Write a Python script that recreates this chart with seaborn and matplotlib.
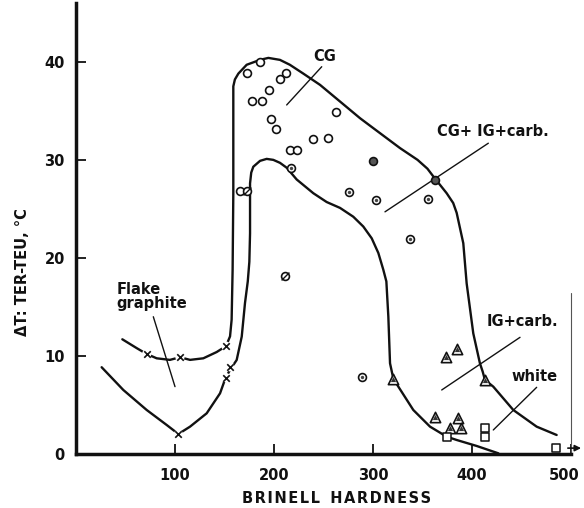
import numpy as np
import pandas as pd
import seaborn as sns
import matplotlib.pyplot as plt
import matplotlib.transforms as mtransforms
from matplotlib.path import Path

# ---- boundary curves (Brinell hardness, undercooling dT) ----
outer_x = [46.8, 61.3, 71.4, 81.5, 94.9, 105.0, 115.2, 128.6, 142.1, 151.5, 155.6, 157.2,
           158.2, 158.9, 158.9, 160.5, 164.0, 172.4, 185.9, 194.3, 206.0, 216.0, 229.6,
           246.5, 256.6, 286.9, 296.8, 327.3, 345.0, 355.0, 361.0, 374.4, 381.0, 384.5,
           391.2, 394.6, 401.3, 408.0, 410.8, 413.1, 421.5, 441.7, 465.3, 485.5]
outer_y = [11.7, 10.8, 10.2, 9.76, 9.6, 9.87, 9.6, 9.76, 10.4, 11.0, 12.0, 13.7,
           18.8, 26.6, 37.5, 38.2, 38.8, 39.7, 40.2, 40.4, 40.2, 39.7, 38.8,
           37.65, 36.8, 34.25, 33.5, 31.2, 30.0, 29.1, 28.3, 26.6, 25.6, 24.6,
           21.5, 17.4, 12.3, 9.25, 8.4, 7.55, 6.87, 4.49, 2.79, 1.94]

inner_x = [25.9, 47.8, 71.4, 91.6, 103.4, 115.2, 132.0, 145.5, 151.2, 155.6, 162.3, 167.4,
           170.7, 173.5, 175.1, 175.8, 175.8, 177.0, 179.1, 185.9, 192.6, 199.3, 206.0,
           212.8, 222.9, 239.7, 253.2, 266.7, 280.1, 290.2, 298.7, 305.4, 310.4, 313.5,
           315.5, 317.2, 320.5, 325.6, 340.7, 357.6, 374.4, 384.5, 404.7, 426.6]
inner_y = [8.85, 6.53, 4.49, 2.96, 2.04, 2.79, 4.15, 6.19, 7.8, 8.57, 9.59, 11.97,
           15.4, 17.6, 19.6, 22.5, 27.6, 28.7, 29.3, 29.9, 30.1, 30.0, 29.7,
           29.2, 28.0, 26.6, 25.7, 25.1, 24.2, 23.2, 22.0, 20.5, 18.8, 17.6,
           14.0, 9.25, 7.7, 6.87, 4.49, 2.79, 1.77, 1.43, 0.82, 0.07]

# ---- measured irons ----
flake_x = [71.4, 105.0, 151.5, 155.5, 151.2, 103.4]
flake_y = [10.2, 9.9, 11.0, 8.9, 7.8, 2.0]

cg_x = [185.9, 172.4, 206.0, 211.8, 195.3, 178.1, 187.5, 197.0, 202.0, 262.3,
        239.0, 254.2, 216.0, 223.0, 165.7]
cg_y = [40.0, 38.9, 38.2, 38.9, 37.1, 36.0, 36.0, 34.2, 33.1, 34.9,
        32.1, 32.2, 31.0, 31.0, 26.8]

cg_slash_x = [172.4, 211.0]
cg_slash_y = [26.8, 18.2]

mixed_x = [217.0, 276.0, 303.5, 337.4, 355.9, 288.5]
mixed_y = [29.2, 26.7, 25.9, 21.9, 26.0, 7.9]

mixed_dark_x = [300.3, 362.8]
mixed_dark_y = [29.9, 27.9]

igc_x = [320.5, 385.2, 373.7, 413.1, 362.6, 386.2, 378.0, 388.6]
igc_y = [7.7, 10.7, 9.9, 7.55, 3.74, 3.64, 2.7, 2.7]

white_x = [374.4, 413.1, 413.1, 484.8]
white_y = [1.77, 2.7, 1.77, 0.65]

x_ticks = [100, 200, 300, 400, 500]
y_ticks = [0, 10, 20, 30, 40]

# ---- figure ----
sns.set_theme(style="ticks")
plt.rcParams["font.family"] = ["DejaVu Sans"]
plt.rcParams["font.weight"] = "bold"

fig = plt.figure(figsize=(5.84, 5.08), dpi=100)
ax = fig.add_axes([76 / 584, 54 / 508, 495 / 584, 451 / 508])
ax.set_xlim(0, 500)
ax.set_ylim(0, 46)

ink = "#111111"

for cx, cy in [(outer_x, outer_y), (inner_x, inner_y)]:
    sns.lineplot(x=cx, y=cy, sort=False, estimator=None, color=ink, lw=1.7, ax=ax, zorder=2)

# leader lines from the phase labels
leaders = [
    ((248.2, 212.8), (39.5, 35.6)),
    ((416.5, 312.1), (31.7, 24.7)),
    ((448.5, 369.4), (11.9, 6.53)),
    ((465.3, 421.5), (6.8, 2.45)),
    ((78.1, 100.0), (14.0, 6.87)),
]
for lx, ly in leaders:
    ax.plot(lx, ly, color=ink, lw=1.0, zorder=2)

# flake graphite: crosses with a small white gap in the curve
sns.scatterplot(x=flake_x, y=flake_y, marker="o", s=45, color="white", edgecolor="none",
                ax=ax, zorder=3)
sns.scatterplot(x=flake_x, y=flake_y, marker="x", s=22, color=ink, linewidth=1.2,
                ax=ax, zorder=4)

# compacted graphite: open circles
sns.scatterplot(x=cg_x, y=cg_y, marker="o", s=32, facecolor="white", edgecolor=ink,
                linewidth=1.2, ax=ax, zorder=4)
slash = Path([(-0.9, -0.9), (0.9, 0.9)], [Path.MOVETO, Path.LINETO])
sns.scatterplot(x=cg_slash_x, y=cg_slash_y, marker="o", s=32, facecolor="white",
                edgecolor=ink, linewidth=1.2, ax=ax, zorder=4)
ax.scatter(cg_slash_x, cg_slash_y, marker=slash, s=32, color=ink, linewidth=1.0, zorder=5)

# CG + IG + carbides: dotted circles
sns.scatterplot(x=mixed_x, y=mixed_y, marker="o", s=32, facecolor="white", edgecolor=ink,
                linewidth=1.2, ax=ax, zorder=4)
ax.scatter(mixed_x, mixed_y, marker="o", s=6, color="#444444", linewidth=0, zorder=5)
sns.scatterplot(x=mixed_dark_x, y=mixed_dark_y, marker="o", s=32, facecolor="#555555",
                edgecolor=ink, linewidth=1.2, ax=ax, zorder=4)

# IG + carbides: triangles
sns.scatterplot(x=igc_x, y=igc_y, marker="^", s=55, facecolor="white", edgecolor=ink,
                linewidth=1.2, ax=ax, zorder=4)
ax.scatter(igc_x, igc_y, marker="^", s=14, color="#333333", linewidth=0, zorder=5)

# white iron: open squares
sns.scatterplot(x=white_x, y=white_y, marker="s", s=28, facecolor="white", edgecolor=ink,
                linewidth=1.1, ax=ax, zorder=4)
ax.annotate("", xy=(513, 0.6), xytext=(494, 0.6), annotation_clip=False,
            arrowprops=dict(arrowstyle="-|>", color=ink, lw=1.2, mutation_scale=9))
ax.plot([500, 500], [0, 16.4], color="#555555", lw=0.8, clip_on=False, zorder=1)

# phase labels
lab = dict(fontsize=10.5, fontweight="bold", color=ink)
ax.text(251.5, 40.5, "CG", ha="center", va="center", **lab)
ax.text(364.3, 32.9, "CG+ IG+carb.", ha="left", va="center", **lab)
ax.text(414.8, 13.5, "IG+carb.", ha="left", va="center", **lab)
ax.text(440.1, 7.9, "white", ha="left", va="center", **lab)
ax.text(41.1, 16.05, "Flake\ngraphite", ha="left", va="center", linespacing=0.95, **lab)

# axes styling
for side in ["top", "right"]:
    ax.spines[side].set_visible(False)
for side in ["left", "bottom"]:
    ax.spines[side].set_linewidth(2.5)
    ax.spines[side].set_color(ink)
ax.set_xticks(x_ticks)
ax.set_yticks(y_ticks)
ax.tick_params(direction="in", length=7, width=1.3, colors=ink, labelsize=10.5)
ax.tick_params(axis="x", pad=10)
ax.tick_params(axis="y", pad=8)
for t in ax.get_xticklabels() + ax.get_yticklabels():
    t.set_fontweight("bold")

# keep the last hardness label inside the figure
last = ax.get_xticklabels()[-1]
last.set_transform(last.get_transform() +
                   mtransforms.ScaledTranslation(-7 / 100, 0, fig.dpi_scale_trans))

ax.set_xlabel("B R I N E L L   H A R D N E S S".replace(" ", "\u200a").replace("\u200a\u200a\u200a", "  "),
              fontsize=10.5, fontweight="bold", color=ink, va="center")
ax.xaxis.set_label_coords(0.527, -0.0976)
ax.set_ylabel("ΔT: TER-TEU, °C", fontsize=10.5, fontweight="bold", color=ink, va="center")
ax.yaxis.set_label_coords(-0.109, 0.404)

fig.savefig("out.png", dpi=100)
